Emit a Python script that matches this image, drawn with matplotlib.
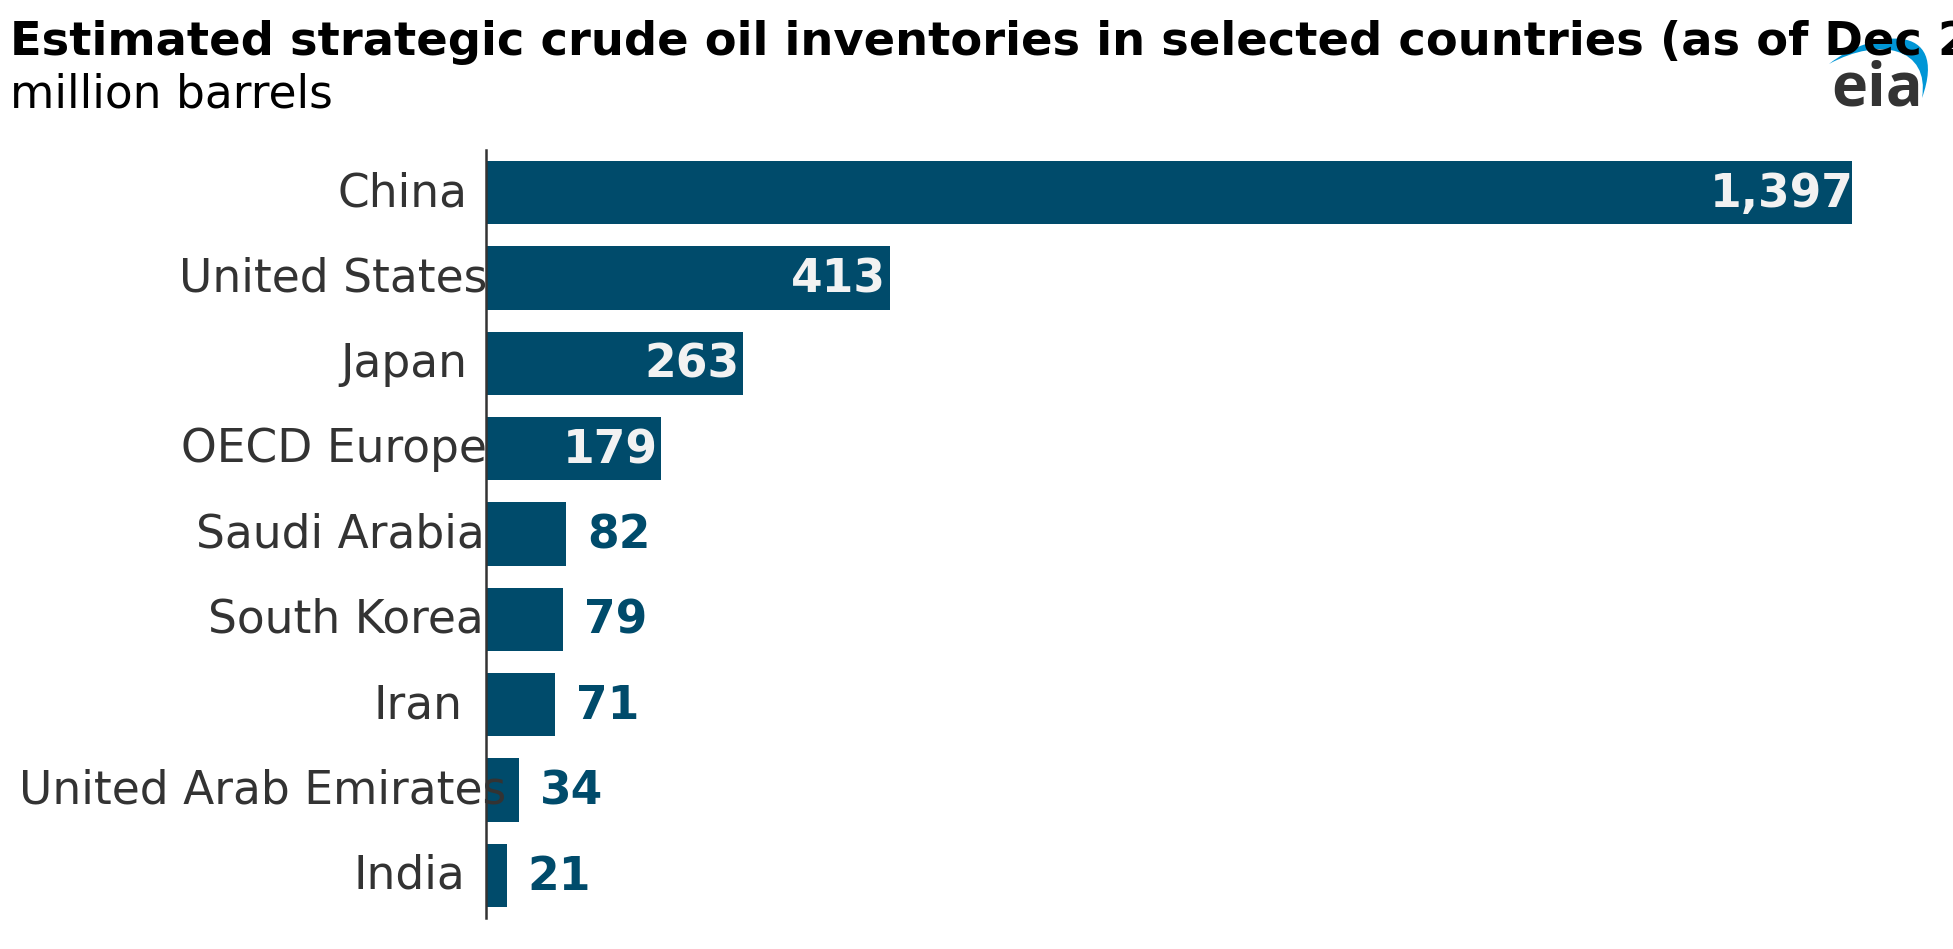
import numpy as np
import matplotlib.pyplot as plt
from matplotlib.path import Path
from matplotlib.patches import PathPatch

# 数据
countries = ['China', 'United States', 'Japan', 'OECD Europe', 'Saudi Arabia',
             'South Korea', 'Iran', 'United Arab Emirates', 'India']
inventories = [1397, 413, 263, 179, 82, 79, 71, 34, 21]

title = 'Estimated strategic crude oil inventories in selected countries (as of Dec 2024)'
subtitle = 'million barrels'

bar_color = '#004b6b'
text_gray = '#333333'

W, H = 1953, 949
fig = plt.figure(figsize=(W / 100, H / 100), dpi=100)
ax = fig.add_axes([486 / W, 1 - 918 / H, (1852 - 486) / W, (918 - 150) / H])

y = np.arange(len(countries))
ax.barh(y, inventories, height=0.74, color=bar_color)

ax.set_xlim(0, max(inventories))
ax.set_ylim(len(countries) - 0.5, -0.5)
ax.set_yticks([])
ax.set_xticks([])

for side in ['top', 'right', 'bottom']:
    ax.spines[side].set_visible(False)
ax.spines['left'].set_color(text_gray)
ax.spines['left'].set_linewidth(1.8)

renderer = fig.canvas.get_renderer()
to_px = ax.transData.transform
to_fig = fig.transFigure.inverted().transform

# 国家标签：原图里标签宽度估得略窄，右端随长度向右溢出
for yi, name in zip(y, countries):
    t = fig.text(0, 0, name, fontsize=32.8, color=text_gray,
                 ha='left', va='center')
    w = t.get_window_extent(renderer).width
    _, ypx = to_px((0, yi))
    x_start = 453 + 0.11 * w - w
    t.set_position(to_fig((x_start, ypx - 1)))

# 数值标签
for yi, v in zip(y, inventories):
    label = f'{v:,}'
    xpx, ypx = to_px((v, yi))
    if v >= 150:
        t = fig.text(0, 0, label, fontsize=32.8, fontweight='bold',
                     color='#f2f2f2', ha='left', va='center')
        w = t.get_window_extent(renderer).width
        x_start = xpx - 14 + 0.11 * w - w
        t.set_position(to_fig((x_start, ypx - 2)))
    else:
        ax.annotate(label, (v, yi), xytext=(15, -1.5), textcoords='offset points',
                    ha='left', va='center', fontsize=32.8, fontweight='bold',
                    color=bar_color)

# 标题
fig.text(10 / W, 1 - 55 / H, title, fontsize=33.4, fontweight='bold',
         color='black', ha='left', va='baseline')
fig.text(10 / W, 1 - 107 / H, subtitle, fontsize=32.8, color='black',
         ha='left', va='baseline')


# eia 标志
def px(x, yy):
    return (x / W, 1 - yy / H)


verts = [px(1829, 64), px(1872, 30), px(1950, 20), px(1922, 98),
         px(1930, 48), px(1880, 36), px(1829, 64), px(1829, 64)]
codes = [Path.MOVETO, Path.CURVE4, Path.CURVE4, Path.CURVE4,
         Path.CURVE4, Path.CURVE4, Path.CURVE4, Path.CLOSEPOLY]
fig.patches.append(PathPatch(Path(verts, codes), facecolor='#0096d6',
                             edgecolor='none', transform=fig.transFigure))
fig.text(1831 / W, 1 - 106 / H, 'eia', fontsize=44, fontweight='bold',
         family='Open Sans', color=text_gray, ha='left', va='baseline')

plt.savefig('out.png', dpi=100)
